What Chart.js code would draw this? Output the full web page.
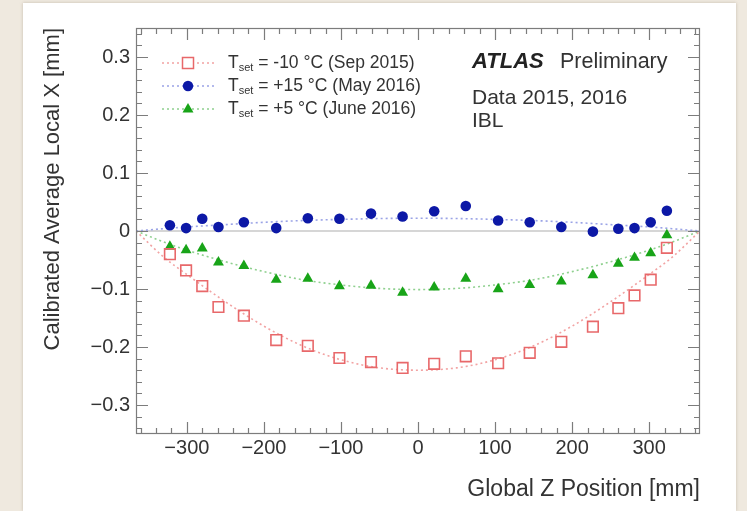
<!DOCTYPE html>
<html><head><meta charset="utf-8">
<script src="https://cdn.jsdelivr.net/npm/chart.js@4.4.1/dist/chart.umd.min.js"></script>
<style>
html,body{margin:0;padding:0;width:747px;height:511px;overflow:hidden;background:#efe9df;}
#card{position:absolute;left:23px;top:3px;width:713px;height:508px;background:#fff;box-shadow:0 0 3px rgba(170,160,140,0.6);}
#wrap{position:absolute;left:0;top:0;width:747px;height:511px;}
</style></head><body>
<div id="card"></div>
<div id="wrap"><canvas id="c" width="747" height="511"></canvas></div>
<script>
// ---- data ----
const zPositions = [-322, -301, -280, -259, -226, -184, -143, -102, -61, -20, 21, 62, 104, 145, 186, 227, 260, 281, 302, 323];
const localXSep2015 = [-0.040, -0.068, -0.095, -0.131, -0.146, -0.188, -0.198, -0.219, -0.226, -0.236, -0.229, -0.216, -0.228, -0.210, -0.191, -0.165, -0.133, -0.111, -0.084, -0.029];
const localXMay2016 = [0.010, 0.005, 0.021, 0.007, 0.015, 0.005, 0.022, 0.021, 0.030, 0.025, 0.034, 0.043, 0.018, 0.015, 0.007, -0.001, 0.004, 0.005, 0.015, 0.035];
const localXJune2016 = [-0.027, -0.033, -0.030, -0.054, -0.060, -0.084, -0.082, -0.095, -0.094, -0.106, -0.097, -0.082, -0.100, -0.093, -0.087, -0.076, -0.056, -0.046, -0.038, -0.007];
// fit curves
const fitZ = [-366, -330, -300, -250, -200, -150, -100, -50, 0, 50, 100, 150, 200, 250, 300, 330, 366];
const fitSep2015 = [0, -0.045, -0.075, -0.122, -0.164, -0.198, -0.222, -0.236, -0.240, -0.236, -0.222, -0.198, -0.164, -0.122, -0.075, -0.045, 0];
const fitMay2016 = [0, 0.004, 0.007, 0.011, 0.015, 0.018, 0.020, 0.0215, 0.022, 0.0215, 0.020, 0.018, 0.015, 0.011, 0.007, 0.004, 0];
const fitJune2016 = [0, -0.019, -0.033, -0.053, -0.070, -0.084, -0.093, -0.099, -0.101, -0.099, -0.093, -0.084, -0.070, -0.053, -0.033, -0.019, 0];
const xTickValues = [-300, -200, -100, 0, 100, 200, 300];
const yTickValues = [-0.3, -0.2, -0.1, 0, 0.1, 0.2, 0.3];
const legendLabels = [' = -10 °C (Sep 2015)', ' = +15 °C (May 2016)', ' = +5 °C (June 2016)'];
const xTitle = 'Global Z Position [mm]';
const yTitle = 'Calibrated Average Local X [mm]';

// ---- styles ----
const FONT = '"Liberation Sans", Arial, Helvetica, sans-serif';
const TXT = '#333333';
const RED = '#e8686a', RED_L = '#f2a3a3';
const BLUE = '#0c18a6', BLUE_L = '#9aa3e6';
const GREEN = '#18a418', GREEN_L = '#8fd08f';

const pts = (xs, ys) => xs.map((x, i) => ({x, y: ys[i]}));
const fmt = v => v === 0 ? '0' : (v < 0 ? '\u2212' : '') + String(Math.abs(v));

const fitDs = (data, color) => ({type: 'line', data: pts(fitZ, data), borderColor: color, borderWidth: 1.6,
  borderDash: [2, 3], pointRadius: 0, showLine: true, cubicInterpolationMode: 'monotone', fill: false, order: 5});

const decor = {
  id: 'decor',
  beforeDatasetsDraw(chart) {
    const {ctx, chartArea: a, scales: {y}} = chart;
    const py = y.getPixelForValue(0);
    ctx.save();
    ctx.strokeStyle = '#c9c9c9'; ctx.lineWidth = 1.5;
    ctx.beginPath(); ctx.moveTo(a.left, py); ctx.lineTo(a.right, py); ctx.stroke();
    ctx.restore();
  },
  afterDatasetsDraw(chart) {
    const {ctx, chartArea: a, scales: {x, y}} = chart;
    ctx.save();
    ctx.strokeStyle = '#7c7c7c'; ctx.lineWidth = 1.2;
    ctx.strokeRect(a.left + 0.5, a.top + 0.5, a.right - a.left - 1, a.bottom - a.top - 1);
    ctx.beginPath();
    for (let k = -18; k <= 18; k++) {
      const px = Math.round(x.getPixelForValue(k * 20)) + 0.5;
      if (px <= a.left + 1 || px >= a.right - 1) continue;
      const L = (k % 5 === 0) ? 12 : 6;
      ctx.moveTo(px, a.bottom); ctx.lineTo(px, a.bottom - L);
      ctx.moveTo(px, a.top); ctx.lineTo(px, a.top + L);
    }
    for (let k = -17; k <= 17; k++) {
      const py = Math.round(y.getPixelForValue(k * 0.02)) + 0.5;
      const L = (k % 5 === 0) ? 12 : 6;
      ctx.moveTo(a.left, py); ctx.lineTo(a.left + L, py);
      ctx.moveTo(a.right, py); ctx.lineTo(a.right - L, py);
    }
    ctx.stroke();

    // legend
    const rows = [63, 86, 109];
    const styles = [[RED, RED_L, 'sq'], [BLUE, BLUE_L, 'ci'], [GREEN, GREEN_L, 'tr']];
    rows.forEach((ry, i) => {
      const [c, cl, m] = styles[i];
      ctx.setLineDash([2, 3]); ctx.strokeStyle = cl; ctx.lineWidth = 1.5;
      ctx.beginPath(); ctx.moveTo(162, ry); ctx.lineTo(214, ry); ctx.stroke();
      ctx.setLineDash([]);
      if (m === 'sq') { ctx.fillStyle = '#fff'; ctx.fillRect(182.5, ry - 5.5, 11, 11); ctx.strokeStyle = c; ctx.lineWidth = 1.5; ctx.strokeRect(182.5, ry - 5.5, 11, 11); }
      if (m === 'ci') { ctx.fillStyle = c; ctx.beginPath(); ctx.arc(188, ry, 5.2, 0, Math.PI * 2); ctx.fill(); }
      if (m === 'tr') { ctx.fillStyle = c; ctx.beginPath(); ctx.moveTo(188, ry - 6); ctx.lineTo(193.5, ry + 3.5); ctx.lineTo(182.5, ry + 3.5); ctx.closePath(); ctx.fill(); }
      ctx.fillStyle = TXT; ctx.textBaseline = 'middle'; ctx.textAlign = 'left';
      ctx.font = '17.5px ' + FONT;
      let tx = 228;
      ctx.fillText('T', tx, ry); tx += ctx.measureText('T').width;
      ctx.font = '11px ' + FONT;
      ctx.fillText('set', tx, ry + 5); tx += ctx.measureText('set').width;
      ctx.font = '17.5px ' + FONT;
      ctx.fillText(legendLabels[i], tx, ry);
    });

    // annotation
    ctx.fillStyle = '#222'; ctx.textBaseline = 'middle'; ctx.textAlign = 'left';
    ctx.font = 'italic bold 22px ' + FONT;
    ctx.fillText('ATLAS', 472, 62);
    ctx.fillStyle = TXT;
    ctx.font = '21.5px ' + FONT;
    ctx.fillText('Preliminary', 560, 62);
    ctx.font = '21px ' + FONT;
    ctx.fillText('Data 2015, 2016', 472, 98);
    ctx.fillText('IBL', 472, 121);
    ctx.restore();
  }
};

new Chart(document.getElementById('c'), {
  type: 'scatter',
  data: {
    datasets: [
      fitDs(fitSep2015, RED_L),
      fitDs(fitMay2016, BLUE_L),
      fitDs(fitJune2016, GREEN_L),
      {label: 'Sep 2015', data: pts(zPositions, localXSep2015), pointStyle: 'rect', pointRadius: 7.5, borderColor: RED, borderWidth: 1.6, backgroundColor: 'rgba(255,255,255,0)', order: 1},
      {label: 'May 2016', data: pts(zPositions, localXMay2016), pointStyle: 'circle', pointRadius: 5.3, borderColor: BLUE, borderWidth: 0, backgroundColor: BLUE, order: 1},
      {label: 'June 2016', data: pts(zPositions, localXJune2016), pointStyle: 'triangle', pointRadius: 6.3, borderColor: GREEN, borderWidth: 0, backgroundColor: GREEN, order: 1}
    ]
  },
  options: {
    responsive: false, animation: false, devicePixelRatio: 1,
    layout: {padding: {left: 0, right: 47, top: 28, bottom: 0}},
    plugins: {legend: {display: false}, tooltip: {enabled: false}},
    scales: {
      x: {
        type: 'linear', position: 'bottom', min: -366, max: 366,
        grid: {display: false, drawTicks: false}, border: {display: false},
        afterBuildTicks: s => { s.ticks = xTickValues.map(v => ({value: v})); },
        afterFit: s => { s.height = 77; },
        ticks: {padding: 2, color: TXT, font: {size: 20, family: FONT}, callback: v => fmt(v), maxRotation: 0, autoSkip: false},
        title: {display: true, text: xTitle, align: 'end', color: TXT, font: {size: 23, family: FONT}, padding: {top: 0, bottom: 8}}
      },
      y: {
        type: 'linear', position: 'left', min: -0.35, max: 0.35,
        grid: {display: false, drawTicks: false}, border: {display: false},
        afterBuildTicks: s => { s.ticks = yTickValues.map(v => ({value: v})); },
        afterFit: s => { s.width = 136; },
        ticks: {padding: 6, color: TXT, font: {size: 20, family: FONT}, callback: v => fmt(v), autoSkip: false},
        title: {display: true, text: yTitle, align: 'end', color: TXT, font: {size: 22, family: FONT}, padding: {top: 40, bottom: 0}}
      }
    }
  },
  plugins: [decor]
});
</script>
</body></html>
